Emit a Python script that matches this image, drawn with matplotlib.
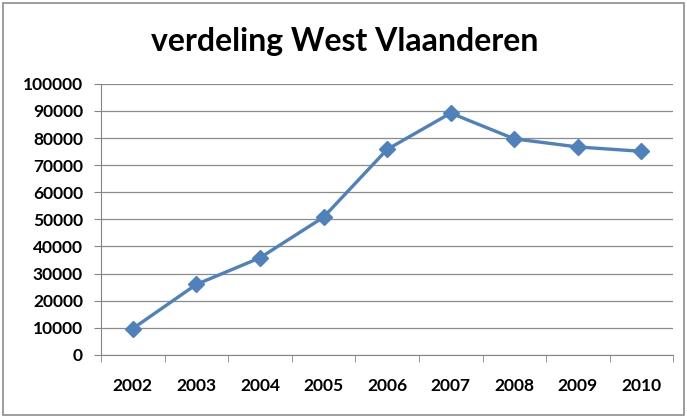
import matplotlib.pyplot as plt
from matplotlib.patches import Rectangle

# data
years = ['2002', '2003', '2004', '2005', '2006', '2007', '2008', '2009', '2010']
values = [9700, 26000, 35800, 50800, 75800, 89200, 79700, 76700, 75100]
y_ticks = list(range(0, 100001, 10000))

plt.rcParams['font.family'] = ['Lato', 'DejaVu Sans']

fig = plt.figure(figsize=(6.87, 4.17), dpi=100)
fig.patches.append(Rectangle((0.004, 0.004), 0.992, 0.988, transform=fig.transFigure,
                             fill=False, edgecolor='#8c8c8c', linewidth=1.2))

ax = fig.add_axes([0.147, 0.149, 0.833, 0.650])
x = list(range(len(years)))
ax.plot(x, values, color='#4F81BD', linewidth=2.4, marker='D', markersize=8,
        markeredgecolor='#4F81BD', markerfacecolor='#4F81BD')

ax.set_xlim(-0.5, len(years) - 0.5)
ax.set_ylim(0, 100000)
ax.set_yticks(y_ticks)
ax.set_yticklabels([str(v) for v in y_ticks], fontsize=12.5, fontweight='bold')

# category labels centred, tick marks between categories
ax.set_xticks(x)
ax.set_xticklabels(years, fontsize=12.5, fontweight='bold')
ax.tick_params(axis='x', length=0, pad=17)
ax.set_xticks([i - 0.5 for i in range(len(years) + 1)], minor=True)
ax.tick_params(axis='x', which='minor', length=5, color='#868686')
ax.tick_params(axis='y', length=5, color='#868686', pad=8)

ax.grid(axis='y', color='#8c8c8c', linewidth=0.9)
ax.set_axisbelow(True)
for s in ['top', 'right']:
    ax.spines[s].set_visible(False)
for s in ['left', 'bottom']:
    ax.spines[s].set_color('#868686')

fig.text(0.502, 0.9, 'verdeling West Vlaanderen', ha='center', va='center',
         fontsize=23, fontweight='bold')

fig.savefig('out.png', dpi=100)
